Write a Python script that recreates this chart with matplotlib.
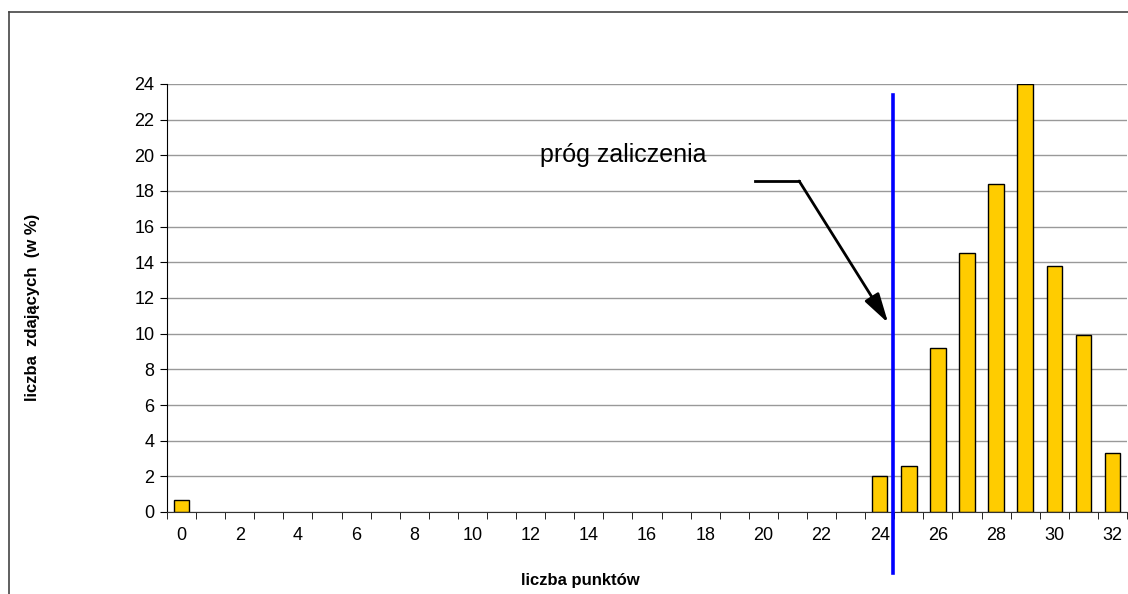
import numpy as np
import matplotlib
matplotlib.use('Agg')
import matplotlib.pyplot as plt
from matplotlib.lines import Line2D

plt.rcParams['font.family'] = ['Liberation Sans', 'DejaVu Sans']

# dane: liczba punktów i procent zdających
punkty = list(range(0, 33))
procent = [0.65] + [0.0] * 23 + [2.0, 2.6, 9.2, 14.5, 18.4, 24.0, 13.8, 9.9, 3.3]
prog = 24.45
y_ticks = list(range(0, 25, 2))
x_tick_labels = [str(p) for p in punkty[::2]]

fig = plt.figure(figsize=(11.28, 5.94), dpi=100)
ax = fig.add_axes([167 / 1128, 82 / 594, 960 / 1128, 428 / 594])

# ramka wykresu (częściowo widoczna)
fig.add_artist(Line2D([9 / 1128, 1.0], [1 - 12 / 594, 1 - 12 / 594], color='#444444', lw=1.2))
fig.add_artist(Line2D([9 / 1128, 9 / 1128], [0, 1 - 12 / 594], color='#444444', lw=1.2))

# słupki o zerowej wysokości bez obramowania
szer_kraw = [1.0 if v > 0 else 0.0 for v in procent]
ax.bar(punkty, procent, width=0.53, color='#FFCC00', edgecolor='black',
       linewidth=szer_kraw, zorder=3)

ax.set_xlim(-0.5, 32.5)
ax.set_ylim(0, 24)
ax.set_yticks(y_ticks)
ax.set_yticklabels([str(v) for v in y_ticks], fontsize=13)
ax.set_xticks(punkty[::2])
ax.set_xticklabels(x_tick_labels, fontsize=13)
ax.set_xticks(np.arange(-0.5, 33, 1), minor=True)
ax.tick_params(axis='x', which='major', length=0, pad=11)
ax.tick_params(axis='x', which='minor', length=5, direction='out', color='black')
ax.tick_params(axis='y', length=5, direction='out', color='black', pad=4)
ax.grid(axis='y', color='#999999', linewidth=1.0, zorder=0)

for s in ['top', 'right']:
    ax.spines[s].set_visible(False)
ax.spines['left'].set_color('black')
ax.spines['bottom'].set_color('#333333')
ax.spines['left'].set_zorder(4)
ax.spines['bottom'].set_zorder(4)

# próg zaliczenia
ax.axvline(prog, ymin=-0.143, ymax=0.974, color='#0000FF', lw=2.6, clip_on=False, zorder=5)
ax.text(15.2, 20.0, 'próg zaliczenia', fontsize=18, ha='center', va='center')
ax.plot([19.71, 21.23], [18.56, 18.56], color='black', lw=2, zorder=5)
ax.annotate('', xy=(24.29, 10.6), xytext=(21.23, 18.56),
            arrowprops=dict(arrowstyle='-|>,head_length=1.8,head_width=0.5', color='black', lw=2,
                            mutation_scale=10, shrinkA=0, shrinkB=0), zorder=5)

fig.text(580 / 1128, 1 - 580 / 594, 'liczba punktów', fontsize=12, fontweight='bold',
         ha='center', va='center')
fig.text(33 / 1128, 1 - 307 / 594, 'liczba  zdających  (w %)', fontsize=12, fontweight='bold',
         ha='center', va='center', rotation=90)

fig.savefig('out.png', dpi=100)
